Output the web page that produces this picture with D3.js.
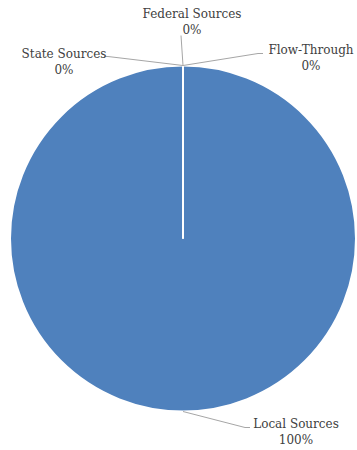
<!DOCTYPE html>
<html><head><meta charset="utf-8">
<script src="https://cdn.jsdelivr.net/npm/d3@7"></script>
<style>body{margin:0;background:#fff}svg{display:block}</style>
</head><body>
<script>
const categories = ["Local Sources", "Federal Sources", "State Sources", "Flow-Through"];
const values = [100, 0, 0, 0];
const pctLabels = ["100%", "0%", "0%", "0%"];

// label layout (leader-line elbow and text anchor relative to pie center)
const labelLayout = [
  {elbow: [62, 189], end: [67, 189], text: [113, 189]},
  {elbow: [-2, -203], end: [-2, -203], text: [9, -221]},
  {elbow: [-75, -182], end: [-79, -182], text: [-119, -181]},
  {elbow: [75, -185], end: [80, -185], text: [128, -185]}
];

const W = 357, H = 450, cx = 183, cy = 238.5, R = 173;
const svg = d3.select("body").append("svg").attr("width", W).attr("height", H);
const g = svg.append("g").attr("transform", `translate(${cx},${cy})`);

const pie = d3.pie().sort(null).value(d => d)(values);
const arc = d3.arc().innerRadius(0).outerRadius(R);

g.selectAll("path.slice").data(pie).join("path")
  .attr("class", "slice")
  .attr("d", arc)
  .attr("fill", "#4f81bd")
  .attr("stroke", "#fff")
  .attr("stroke-width", 2);

const pt = (d) => {
  const a = (d.startAngle + d.endAngle) / 2;
  return [Math.sin(a) * R, -Math.cos(a) * R];
};

pie.forEach((d, i) => {
  const p = pt(d), L = labelLayout[i];
  g.append("polyline")
    .attr("points", [p, L.elbow, L.end].map(q => q.join(",")).join(" "))
    .attr("fill", "none").attr("stroke", "#a6a6a6").attr("stroke-width", 1);
  const t = g.append("text")
    .attr("x", L.text[0]).attr("y", L.text[1])
    .attr("text-anchor", "middle")
    .style("font-family", "'DejaVu Serif', serif")
    .attr("font-size", 12).attr("fill", "#404040");
  t.append("tspan").attr("x", L.text[0]).attr("dy", 0).text(categories[i]);
  t.append("tspan").attr("x", L.text[0]).attr("dy", 16.5).text(pctLabels[i]);
});
</script>
</body></html>
